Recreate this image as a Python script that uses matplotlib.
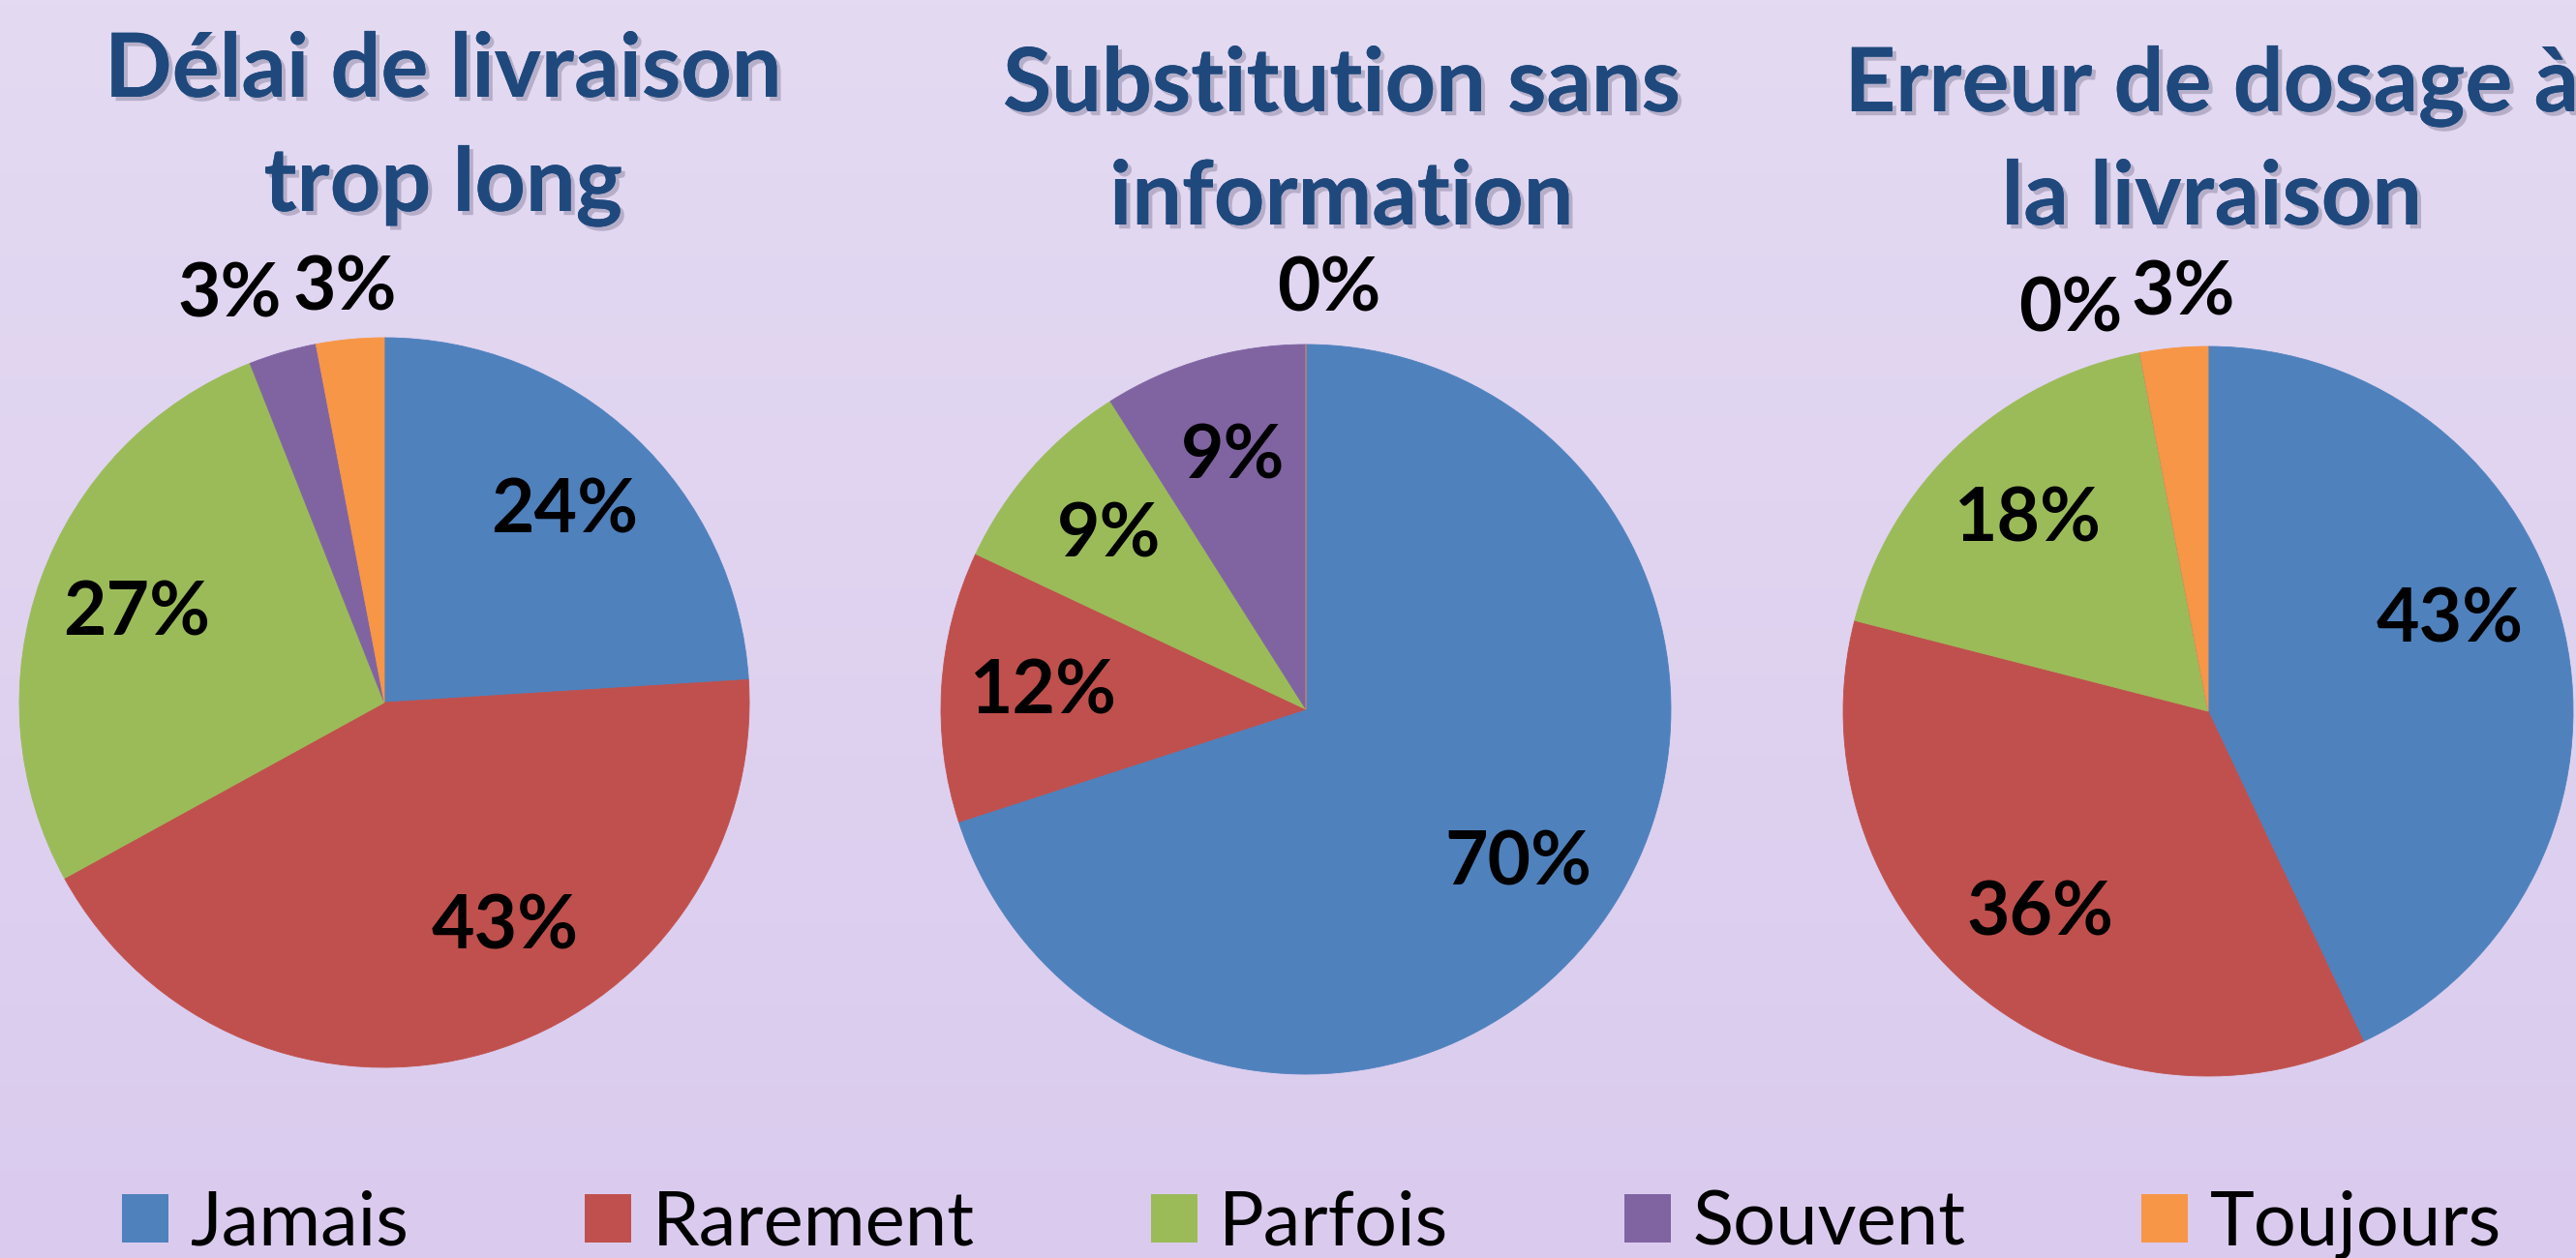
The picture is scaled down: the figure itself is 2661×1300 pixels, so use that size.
import numpy as np
import matplotlib.pyplot as plt
import matplotlib.patheffects as pe
from matplotlib.patches import Patch
from matplotlib.colors import LinearSegmentedColormap

# categories and colours (Office 2007 palette)
categories = ['Jamais', 'Rarement', 'Parfois', 'Souvent', 'Toujours']
colors = ['#4F81BD', '#C0504D', '#9BBB59', '#8064A2', '#F79646']

# one list of percentages per pie
delai = [24, 43, 27, 3, 3]
substitution = [70, 12, 9, 9, 0]
erreur = [43, 36, 18, 0, 3]

titles = [['Délai de livraison', 'trop long'],
          ['Substitution sans', 'information'],
          ['Erreur de dosage à', 'la livraison']]

W, H = 2661, 1300
font = ['Lato', 'DejaVu Sans']

fig = plt.figure(figsize=(W / 100, H / 100), dpi=100)
renderer = fig.canvas.get_renderer()


def fit_size(text, target_px, **kw):
    # font size that gives the text the wanted width in pixels
    t = fig.text(0, 0, text, fontsize=100, family=font, **kw)
    w = t.get_window_extent(renderer=renderer).width
    t.remove()
    return 100 * target_px / w


title_fs = fit_size('Substitution sans', 700, fontweight='bold')
label_fs = fit_size('24%', 152, fontweight='bold')
legend_fs = fit_size('Rarement', 333)

# lavender background gradient
bg = fig.add_axes([0, 0, 1, 1])
grad = np.linspace(0, 1, 256).reshape(-1, 1)
cmap = LinearSegmentedColormap.from_list('bg', ['#E4DAF2', '#DACBEE'])
bg.imshow(grad, aspect='auto', cmap=cmap, extent=[0, 1, 0, 1])
bg.axis('off')

# pie centres / radius in pixels
centres = [(397, 726), (1349, 733), (2281, 735)]
r = 377
title_x = [458, 1386, 2285]
title_y = [(100, 218), (115, 232), (115, 232)]

# small nudges of data labels (radius units), like Excel's best fit
nudges = {(0, 1): (0.13, 0.075), (0, 3): (-0.106, 0.02),
          (1, 4): (0.064, 0.01),
          (2, 0): (-0.04, 0.09), (2, 3): (-0.163, -0.02), (2, 4): (0.04, 0.01)}

shadow = [pe.withSimplePatchShadow(offset=(3, -3), shadow_rgbFace='#333355', alpha=0.25), pe.Normal()]

for k, (vals, (cx, cy), tx, ty, tl) in enumerate(zip([delai, substitution, erreur], centres,
                                                       title_x, title_y, titles)):
    ax = fig.add_axes([(cx - r) / W, (H - cy - r) / H, 2 * r / W, 2 * r / H])
    wedges, _ = ax.pie(vals, colors=colors, startangle=90, counterclock=False,
                       wedgeprops=dict(linewidth=0.6))
    for w in wedges:
        w.set_edgecolor(w.get_facecolor())
    ax.set_xlim(-1, 1)
    ax.set_ylim(-1, 1)
    ax.axis('off')

    for i, (w, v) in enumerate(zip(wedges, vals)):
        theta = np.deg2rad((w.theta1 + w.theta2) / 2)
        d = 0.72 if v >= 5 else 1.14
        dx, dy = nudges.get((k, i), (0, 0))
        ax.text(d * np.cos(theta) + dx, d * np.sin(theta) + dy, f'{v}%', ha='center',
                va='center', fontsize=label_fs, fontweight='bold', family=font, color='black')

    for line, y in zip(tl, ty):
        fig.text(tx / W, 1 - y / H, line, ha='center', va='baseline', fontsize=title_fs,
                 fontweight='bold', family=font, color='#1F497D', path_effects=shadow)

em = legend_fs * 100 / 72
handles = [Patch(facecolor=c, edgecolor='none') for c in colors]
fig.legend(handles, categories, loc='center', bbox_to_anchor=(1355 / W, 1 - 1265 / H), ncol=5,
           frameon=False, prop=dict(family=font, size=legend_fs), handlelength=48 / em,
           handleheight=48 / em, handletextpad=22 / em, columnspacing=182 / em,
           borderpad=0, borderaxespad=0)

plt.savefig('out.png', dpi=100)
